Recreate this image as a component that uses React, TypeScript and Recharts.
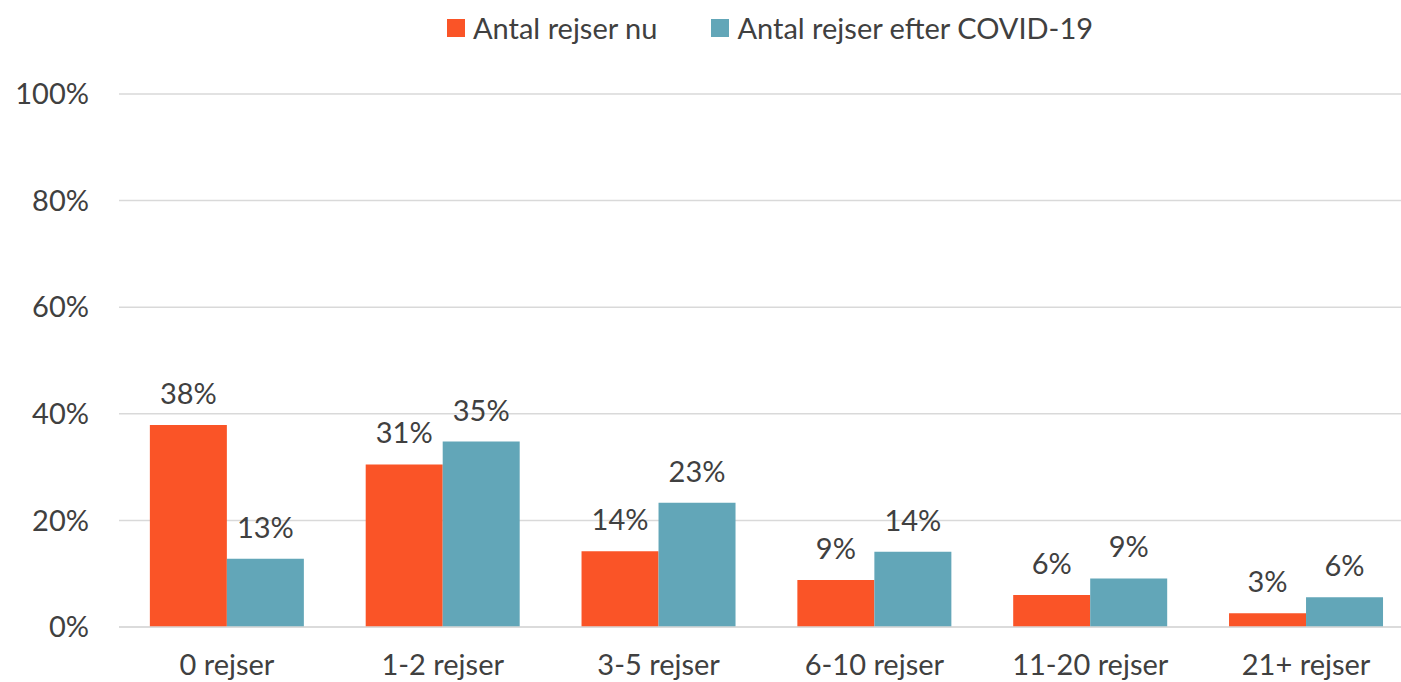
import { BarChart, Bar, XAxis, YAxis, CartesianGrid, Legend, LabelList } from "recharts";

const categories = ["0 rejser", "1-2 rejser", "3-5 rejser", "6-10 rejser", "11-20 rejser", "21+ rejser"];
const nowValues = [37.9, 30.5, 14.2, 8.8, 6.0, 2.6];
const afterValues = [12.8, 34.8, 23.3, 14.1, 9.1, 5.6];
const yTicks = [0, 20, 40, 60, 80, 100];
const seriesNames = ["Antal rejser nu", "Antal rejser efter COVID-19"];
const seriesColors = ["#FA5427", "#62A6B8"];

const FONT = "Lato, 'Liberation Sans', sans-serif";
const TEXT = "#404040";
const GRID = "#D9D9D9";

const data = categories.map((name, i) => ({ name, now: nowValues[i], after: afterValues[i] }));

const pct = (v: any) => `${Math.round(Number(v))}%`;

// legend drawn in series order (recharts reorders its payload)
function LegendContent() {
  return (
    <div style={{ display: "flex", alignItems: "center", fontFamily: FONT, fontSize: 29, color: TEXT, whiteSpace: "nowrap" }}>
      {seriesNames.map((name, i) => (
        <div key={name} style={{ display: "flex", alignItems: "center", marginRight: i === 0 ? 54 : 0 }}>
          <span style={{ display: "inline-block", width: 18, height: 18, background: seriesColors[i], marginRight: 8 }} />
          <span>{name}</span>
        </div>
      ))}
    </div>
  );
}

export default function App() {
  return (
    <div style={{ position: "absolute", left: 0, top: 0, width: 1401, height: 682, overflow: "hidden", background: "#fff" }}>
      <BarChart
        width={1414}
        height={682}
        data={data}
        margin={{ top: 94, right: 0, bottom: 0, left: 0 }}
        barCategoryGap="14.3%"
        barGap={0}
        style={{ fontFamily: FONT }}
      >
        <CartesianGrid vertical={false} stroke={GRID} strokeWidth={1.5} />
        <XAxis
          dataKey="name"
          height={55}
          tickLine={false}
          tickSize={0}
          tickMargin={27}
          axisLine={{ stroke: GRID, strokeWidth: 1.5 }}
          tick={{ fill: TEXT, fontSize: 29, fontFamily: FONT }}
          interval={0}
        />
        <YAxis
          width={119}
          domain={[0, 100]}
          ticks={yTicks}
          tickFormatter={(v) => `${v}%`}
          axisLine={false}
          tickLine={false}
          tickSize={0}
          tickMargin={30}
          tick={{ fill: TEXT, fontSize: 29, fontFamily: FONT }}
        />
        <Legend
          layout="horizontal"
          verticalAlign="middle"
          align="center"
          wrapperStyle={{ top: 10, left: 447, width: "auto" }}
          content={<LegendContent />}
        />
        <Bar dataKey="now" name={seriesNames[0]} fill={seriesColors[0]} isAnimationActive={false}>
          <LabelList dataKey="now" position="top" offset={21} formatter={pct} fill={TEXT} fontSize={29} fontFamily={FONT} />
        </Bar>
        <Bar dataKey="after" name={seriesNames[1]} fill={seriesColors[1]} isAnimationActive={false}>
          <LabelList dataKey="after" position="top" offset={21} formatter={pct} fill={TEXT} fontSize={29} fontFamily={FONT} />
        </Bar>
      </BarChart>
    </div>
  );
}
